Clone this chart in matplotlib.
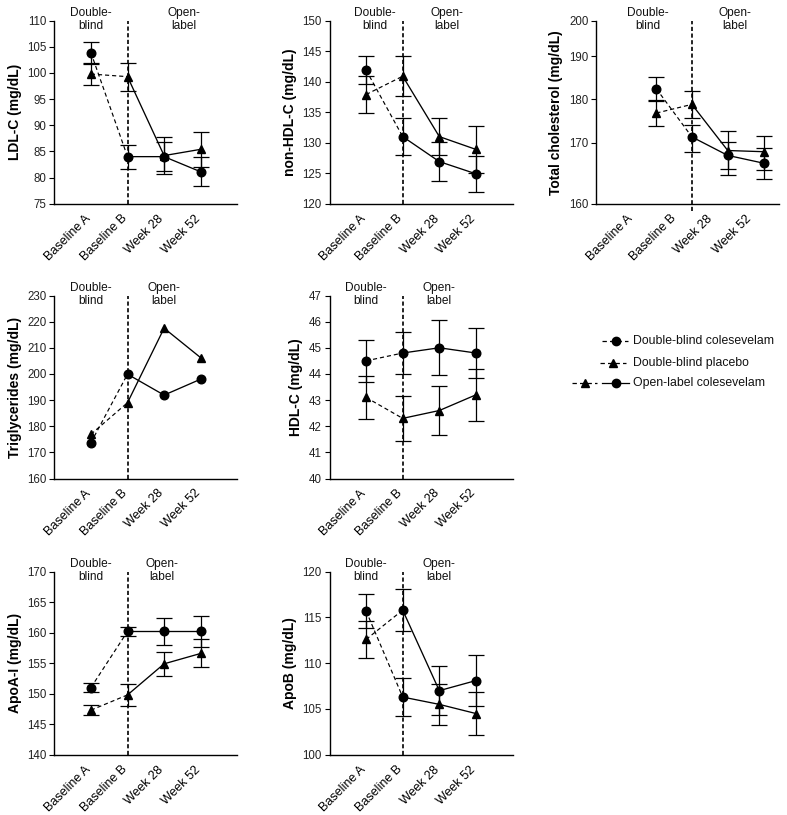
import numpy as np
import matplotlib
matplotlib.use('Agg')
import matplotlib.pyplot as plt
from matplotlib.lines import Line2D

plt.rcParams['font.family'] = ['Liberation Sans', 'DejaVu Sans']

timepoints = ['Baseline A', 'Baseline B', 'Week 28', 'Week 52']

# "col" = double-blind colesevelam arm (circle at baseline A),
# "pbo" = double-blind placebo arm (triangle at baseline A)
ldl_col = [103.9, 84.0, 84.0, 81.1]
ldl_col_err = [2.1, 2.3, 2.8, 2.8]
ldl_pbo = [99.8, 99.3, 84.2, 85.4]
ldl_pbo_err = [2.1, 2.7, 3.5, 3.3]

nhdl_col = [141.9, 131.0, 126.9, 124.9]
nhdl_col_err = [2.3, 3.0, 3.2, 3.0]
nhdl_pbo = [137.9, 140.9, 131.0, 128.9]
nhdl_pbo_err = [3.0, 3.3, 3.0, 3.9]

tc_col = [182.4, 171.3, 167.9, 166.6]
tc_col_err = [2.8, 2.8, 2.2, 2.5]
tc_pbo = [176.8, 178.8, 168.7, 168.5]
tc_pbo_err = [2.9, 3.2, 4.0, 3.0]

tg_col = [173.7, 199.9, 191.9, 198.0]
tg_pbo = [176.9, 189.0, 217.5, 206.2]

hdl_col = [44.5, 44.8, 45.0, 44.8]
hdl_col_err = [0.8, 0.82, 1.05, 0.95]
hdl_pbo = [43.1, 42.3, 42.6, 43.2]
hdl_pbo_err = [0.82, 0.86, 0.95, 1.0]

apoa_col = [151.0, 160.2, 160.2, 160.2]
apoa_col_err = [0.8, 0.8, 2.2, 2.5]
apoa_pbo = [147.3, 149.8, 154.9, 156.6]
apoa_pbo_err = [0.85, 1.8, 2.0, 2.3]

apob_col = [115.7, 106.3, 105.5, 104.5]
apob_col_err = [1.9, 2.1, 2.25, 2.4]
apob_pbo = [112.6, 115.8, 107.0, 108.1]
apob_pbo_err = [2.0, 2.3, 2.7, 2.8]

# the total cholesterol axis in the source is not linear
tc_vals = [100, 160, 170, 180, 190, 200, 260]
tc_pos = [-366, 0, 61, 104.3, 147.3, 182.6, 394.4]


def tc_fwd(v):
    return np.interp(v, tc_vals, tc_pos)


def tc_inv(p):
    return np.interp(p, tc_pos, tc_vals)


W, H = 787, 815
fig = plt.figure(figsize=(W / 100, H / 100), dpi=100)

x = np.arange(4)
x_tc = np.array([0.65, 1.62, 2.6, 3.6])
ticks_tc = [0.0, 1.2, 2.2, 3.25]

panels = [
    dict(ylabel='LDL-C (mg/dL)', ylim=(75, 110), yticks=np.arange(75, 111, 5),
         col=ldl_col, col_err=ldl_col_err, pbo=ldl_pbo, pbo_err=ldl_pbo_err,
         mcol='oooo', mpbo='^^^^', db=0.0, ol=2.55, cell=(0, 0)),
    dict(ylabel='non-HDL-C (mg/dL)', ylim=(120, 150), yticks=np.arange(120, 151, 5),
         col=nhdl_col, col_err=nhdl_col_err, pbo=nhdl_pbo, pbo_err=nhdl_pbo_err,
         mcol='oooo', mpbo='^^^^', db=0.24, ol=2.2, cell=(0, 1)),
    dict(ylabel='Total cholesterol (mg/dL)', ylim=(160, 200), yticks=np.arange(160, 201, 10),
         col=tc_col, col_err=tc_col_err, pbo=tc_pbo, pbo_err=tc_pbo_err,
         mcol='oooo', mpbo='^^^^', db=0.42, ol=2.8, cell=(0, 2), tc=True),
    dict(ylabel='Triglycerides (mg/dL)', ylim=(160, 230), yticks=np.arange(160, 231, 10),
         col=tg_col, col_err=None, pbo=tg_pbo, pbo_err=None,
         mcol='oooo', mpbo='^^^^', db=0.0, ol=2.0, cell=(1, 0)),
    dict(ylabel='HDL-C (mg/dL)', ylim=(40, 47), yticks=np.arange(40, 48, 1),
         col=hdl_col, col_err=hdl_col_err, pbo=hdl_pbo, pbo_err=hdl_pbo_err,
         mcol='oooo', mpbo='^^^^', db=0.0, ol=2.0, cell=(1, 1)),
    dict(ylabel='ApoA-I (mg/dL)', ylim=(140, 170), yticks=np.arange(140, 171, 5),
         col=apoa_col, col_err=apoa_col_err, pbo=apoa_pbo, pbo_err=apoa_pbo_err,
         mcol='oooo', mpbo='^^^^', db=0.0, ol=1.95, cell=(2, 0)),
    dict(ylabel='ApoB (mg/dL)', ylim=(100, 120), yticks=np.arange(100, 121, 5),
         col=apob_col, col_err=apob_col_err, pbo=apob_pbo, pbo_err=apob_pbo_err,
         mcol='oo^^', mpbo='^ooo', db=0.0, ol=2.0, cell=(2, 1)),
]

col_left = [54.3, 329.5, 596]
row_top = [20.7, 295.5, 571.7]
AX = 183

dash = (0, (3.5, 2.5))

for p in panels:
    r, c = p['cell']
    ax = fig.add_axes([col_left[c] / W, 1 - (row_top[r] + AX) / H, AX / W, AX / H])
    tc = p.get('tc', False)
    xs = x_tc if tc else x
    if tc:
        ax.set_yscale('function', functions=(tc_fwd, tc_inv))

    for vals, errs, marks in [(p['col'], p['col_err'], p['mcol']),
                              (p['pbo'], p['pbo_err'], p['mpbo'])]:
        vals = np.array(vals)
        if errs is not None:
            ax.errorbar(xs, vals, yerr=errs, fmt='none', ecolor='black',
                        elinewidth=0.9, capsize=5.5, capthick=0.9, zorder=2)
        ax.plot(xs[:2], vals[:2], color='black', lw=0.85, ls=dash, zorder=3)
        ax.plot(xs[1:], vals[1:], color='black', lw=0.95, zorder=3)
        for m, ms in [('o', 6.2), ('^', 6.2)]:
            idx = [i for i, k in enumerate(marks) if k == m]
            if idx:
                ax.plot(xs[idx], vals[idx], ls='none', marker=m, ms=ms,
                        color='black', zorder=4)

    ax.axvline(xs[1], ymin=-0.04 if tc else 0, ymax=1, color='black', lw=1.2,
               ls=(0, (2.5, 1.5)), zorder=1, clip_on=False)

    ax.set_xlim(-1, 4)
    ax.set_ylim(*p['ylim'])
    ax.set_yticks(p['yticks'])
    ax.set_yticklabels([str(int(v)) for v in p['yticks']])
    ax.set_xticks(ticks_tc if tc else x)
    ax.set_xticklabels(timepoints, rotation=45, ha='right', va='baseline',
                       rotation_mode='anchor', fontsize=9)
    ax.tick_params(axis='x', length=0, pad=11)
    ax.tick_params(axis='y', length=3.5, width=0.8, labelsize=8.3, pad=2,
                   labelcolor='#222222')
    for s in ['top', 'right']:
        ax.spines[s].set_visible(False)
    for s in ['left', 'bottom']:
        ax.spines[s].set_linewidth(1.0)
    ax.set_ylabel(p['ylabel'], fontsize=10, fontweight='bold', labelpad=4)

    tr = ax.get_xaxis_transform()
    ax.text(p['db'], 1.005, 'Double-\nblind', transform=tr, ha='center', va='center',
            fontsize=8.6, linespacing=1.1, color='#111111')
    ax.text(p['ol'], 1.005, 'Open-\nlabel', transform=tr, ha='center', va='center',
            fontsize=8.6, linespacing=1.1, color='#111111')


# legend, drawn in figure pixel positions
def fx(v):
    return v / W


def fy(v):
    return 1 - v / H


def leg_handle(x0, x1, y, ls, marker, xm):
    fig.add_artist(Line2D([fx(x0), fx(x1)], [fy(y), fy(y)], color='black',
                          lw=0.9, ls=ls, transform=fig.transFigure))
    fig.add_artist(Line2D([fx(xm)], [fy(y)], color='black', marker=marker,
                          ms=6 if marker == 'o' else 5.5, ls='none',
                          transform=fig.transFigure))


leg_labels = ['Double-blind colesevelam', 'Double-blind placebo', 'Open-label colesevelam']
leg_y = [340.7, 362.7, 382.7]
leg_handle(601.7, 628, leg_y[0], dash, 'o', 616)
leg_handle(600, 626, leg_y[1], dash, '^', 613)
leg_handle(571.7, 597, leg_y[2], dash, '^', 585)
leg_handle(601.7, 629, leg_y[2], '-', 'o', 616)
for lab, yy in zip(leg_labels, leg_y):
    fig.text(fx(633.3), fy(yy), lab, ha='left', va='center', fontsize=8.8,
             color='#111111')

fig.savefig('out.png', dpi=100)
